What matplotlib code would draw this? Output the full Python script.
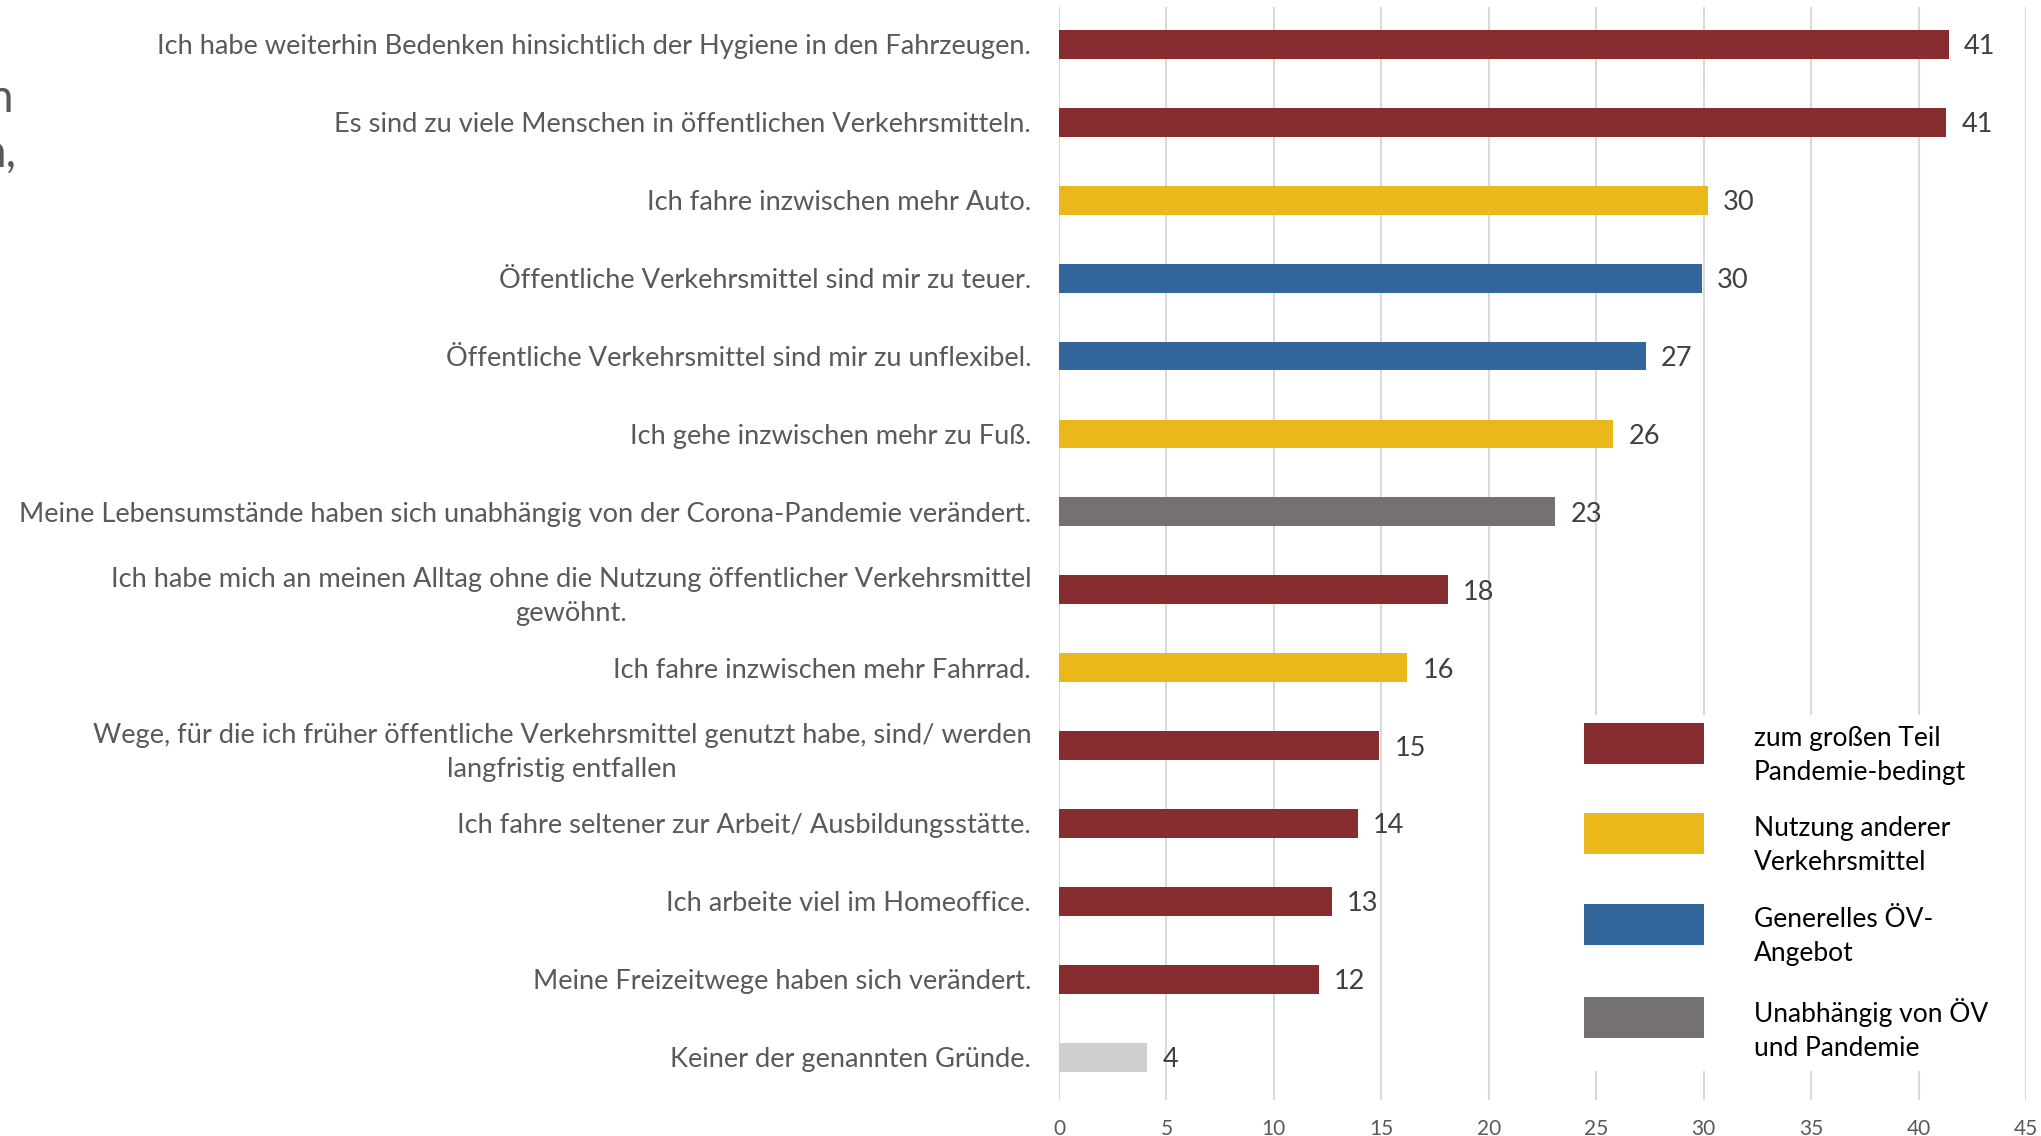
import matplotlib.pyplot as plt
from matplotlib.patches import Patch, Rectangle
from matplotlib.legend_handler import HandlerPatch

plt.rcParams['font.family'] = ['Lato', 'DejaVu Sans']

# Gründe (von oben nach unten), Werte in Prozent
categories = [
    "Ich habe weiterhin Bedenken hinsichtlich der Hygiene in den Fahrzeugen.",
    "Es sind zu viele Menschen in öffentlichen Verkehrsmitteln.",
    "Ich fahre inzwischen mehr Auto.",
    "Öffentliche Verkehrsmittel sind mir zu teuer.",
    "Öffentliche Verkehrsmittel sind mir zu unflexibel.",
    "Ich gehe inzwischen mehr zu Fuß.",
    "Meine Lebensumstände haben sich unabhängig von der Corona-Pandemie verändert.",
    "Ich habe mich an meinen Alltag ohne die Nutzung öffentlicher Verkehrsmittel\ngewöhnt.",
    "Ich fahre inzwischen mehr Fahrrad.",
    "Wege, für die ich früher öffentliche Verkehrsmittel genutzt habe, sind/ werden\nlangfristig entfallen",
    "Ich fahre seltener zur Arbeit/ Ausbildungsstätte.",
    "Ich arbeite viel im Homeoffice.",
    "Meine Freizeitwege haben sich verändert.",
    "Keiner der genannten Gründe.",
]
values = [41.4, 41.3, 30.2, 29.9, 27.3, 25.8, 23.1, 18.1, 16.2, 14.9, 13.9, 12.7, 12.1, 4.1]
groups = ["pandemie", "pandemie", "andere", "oev", "oev", "andere", "unabh",
          "pandemie", "andere", "pandemie", "pandemie", "pandemie", "pandemie", "keiner"]

legend_keys = ["pandemie", "andere", "oev", "unabh"]
legend_labels = [
    "zum großen Teil\nPandemie-bedingt",
    "Nutzung anderer\nVerkehrsmittel",
    "Generelles ÖV-\nAngebot",
    "Unabhängig von ÖV\nund Pandemie",
]
x_ticks = [0, 5, 10, 15, 20, 25, 30, 35, 40, 45]

colors = {
    "pandemie": "#882D2F",
    "andere": "#EAB81B",
    "oev": "#33669A",
    "unabh": "#767171",
    "keiner": "#D0CECE",
}


# Legendenfeld etwas oberhalb der Textmitte, wie im Original
def swatch(legend, orig_handle, xdescent, ydescent, width, height, fontsize):
    h = 1.55 * fontsize
    return Rectangle((-xdescent, -ydescent + (height - h) / 2 + 9.5), width, h)


W, H = 2041, 1136
fig = plt.figure(figsize=(W / 100, H / 100), dpi=100)
ax = fig.add_axes([1059 / W, 1 - 1100 / H, (2026 - 1059) / W, (1100 - 7) / H])

pos = list(range(len(categories)))
ax.barh(pos, values, height=0.37, color=[colors[g] for g in groups], zorder=2)
for p, v in zip(pos, values):
    ax.annotate(f"{v:.0f}", (v, p), xytext=(11, 0), textcoords="offset points",
                va="center_baseline", ha="left", fontsize=19.5, color="#404040")

ax.set_xlim(0, 45)
ax.set_ylim(13.55, -0.48)
ax.set_xticks(x_ticks)
ax.set_yticks(pos, labels=categories, multialignment="center", linespacing=1.45)
ax.tick_params(axis="y", length=0, pad=20, labelsize=19.6, labelcolor="#595959")
ax.tick_params(axis="x", length=0, pad=14, labelsize=15, labelcolor="#595959")
ax.grid(axis="x", color="#D9D9D9", linewidth=1.5, zorder=0)
ax.set_axisbelow(True)
for s in ax.spines.values():
    s.set_visible(False)

handles = [Patch(facecolor=colors[k], edgecolor="none") for k in legend_keys]
leg = ax.legend(handles, legend_labels, loc="upper left",
                bbox_to_anchor=(1573 / W, 1 - 715 / H), bbox_transform=fig.transFigure,
                fontsize=19, handlelength=4.55, handleheight=1.6, handletextpad=1.9,
                labelspacing=1.2, borderpad=0.4, borderaxespad=0,
                frameon=True, fancybox=False,
                handler_map={Patch: HandlerPatch(patch_func=swatch)})
for t in leg.get_texts():
    t.set_linespacing(1.45)
leg.get_frame().set_facecolor("white")
leg.get_frame().set_edgecolor("none")
leg.get_frame().set_alpha(1)
leg.set_zorder(5)

# abgeschnittener Titel am linken Rand
fig.text(13 / W, 1 - 112 / H, "n", ha="right", va="baseline", fontsize=33, color="#595959")
fig.text(17 / W, 1 - 167 / H, "n,", ha="right", va="baseline", fontsize=33, color="#595959")

fig.savefig("out.png", dpi=100)
